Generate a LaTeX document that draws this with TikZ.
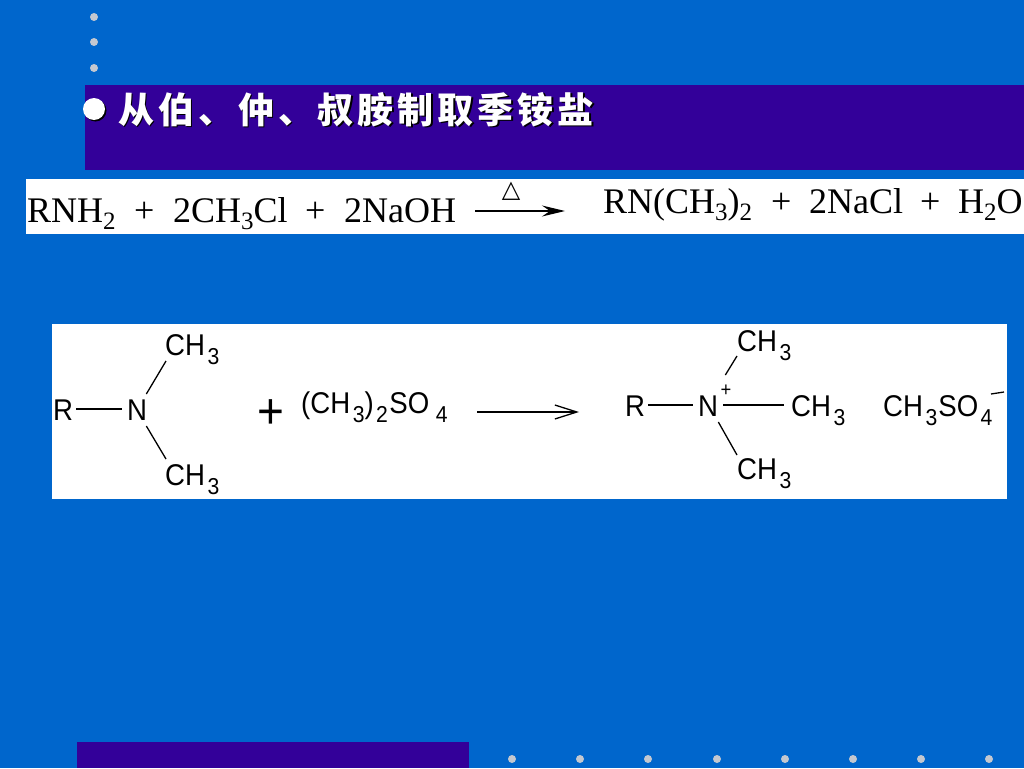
\documentclass[tikz,border=0pt]{standalone}
\usepackage{fontspec}
\setmainfont{Liberation Serif}
\newfontfamily\atomfont[FakeStretch=0.92]{Liberation Sans}
\newfontfamily\cjk[LetterSpace=11]{Noto Sans CJK SC}
\newfontfamily\symfont{DejaVu Sans}
\usetikzlibrary{arrows.meta}
\definecolor{slideblue}{HTML}{0066CC}
\definecolor{bandpurple}{HTML}{330099}
\definecolor{dotgrey}{HTML}{C4C8D0}
% subscripts of the two formula fonts
\newcommand{\serifidx}[1]{\raisebox{-7pt}{\fontsize{25}{25}\selectfont #1}}
\newcommand{\sansidx}[1]{\kern2.5pt\raisebox{-9pt}{\fontsize{23}{23}\selectfont #1}}
\tikzset{
  eqn/.style={anchor=base west,inner sep=0pt,font=\fontsize{36}{36}\selectfont},
  atom/.style={anchor=base west,inner sep=0pt,font=\atomfont\fontsize{30}{30}\selectfont},
  bond/.style={line width=1.3pt},
  dot/.style={circle,fill=dotgrey,inner sep=0pt,minimum width=8pt}
}
\begin{document}
\begin{tikzpicture}[x=1pt,y=-1pt]
      \useasboundingbox (0,0) rectangle (1024,768);
      \fill[slideblue] (0,0) rectangle (1024,768);
      \fill[bandpurple] (85,85) rectangle (1024,170);
      \fill[bandpurple] (77,742) rectangle (469,768);
      \fill[white] (26,179) rectangle (1024,234);
      \fill[white] (52,324) rectangle (1007,499);
      \foreach \y in {17,42,68}
        \node[dot] (left\y) at (94,\y) {};
      \foreach \x in {512,580,648,717,785,853,921,989}
        \node[dot] (foot\x) at (\x,759) {};
      % title
      \node[circle,fill=black,inner sep=0pt,minimum width=22pt] (ballshade) at (95.5,110.5) {};
      \node[circle,fill=white,inner sep=0pt,minimum width=22pt] (ball) at (94,109) {};
      \node[anchor=base west,inner sep=0pt,text=black,font=\cjk\bfseries\fontsize{36}{36}\selectfont] (titleshade) at (119.5,124.5) {从伯、仲、叔胺制取季铵盐};
      \node[anchor=base west,inner sep=0pt,text=white,font=\cjk\bfseries\fontsize{36}{36}\selectfont] (title) at (118,123) {从伯、仲、叔胺制取季铵盐};
      % first reaction
      \node[eqn] (rnh) at (27,222) {RNH\serifidx{2}};
      \node[eqn] (plusa) at (134,222) {+};
      \node[eqn] (chcl) at (173,222) {2CH\serifidx{3}Cl};
      \node[eqn] (plusb) at (305,222) {+};
      \node[eqn] (naoh) at (344,222) {2NaOH};
      \node[anchor=center,inner sep=0pt,font=\symfont\fontsize{24}{24}\selectfont] (heat) at (511,191) {△};
      \node[eqn] (amine) at (603,213) {RN(CH\serifidx{3})\serifidx{2}};
      \node[eqn] (plusc) at (771,213) {+};
      \node[eqn] (nacl) at (809,213) {2NaCl};
      \node[eqn] (plusd) at (920,213) {+};
      \node[eqn] (water) at (958,213) {H\serifidx{2}O};
      \coordinate (heatfrom) at (475,211);
      \coordinate (heatto) at (565,211);
      \draw[line width=1.2pt,-{Stealth[length=23pt,width=11pt,inset=8pt]}] (heatfrom) to (heatto);
      % second reaction
      \node[atom] (ra) at (53,420) {R};
      \node[atom] (na) at (127,420) {N};
      \node[atom] (mea) at (165,355) {CH\sansidx{3}};
      \node[atom] (meb) at (165,485) {CH\sansidx{3}};
      \node[anchor=center,inner sep=0pt,font=\atomfont\fontsize{50}{50}\selectfont] (plus) at (271,414) {+};
      \node[atom] (sulfate) at (301,413) {(CH\sansidx{3})\sansidx{2}\kern1.5pt SO\kern4pt\sansidx{4}};
      \coordinate (arrowfrom) at (477,412);
      \coordinate (arrowto) at (579,412);
      \draw[line width=1.3pt,-{Straight Barb[length=22pt,width=14pt,line width=1.3pt]}] (arrowfrom) to (arrowto);
      \node[atom] (rb) at (625,416) {R};
      \node[atom] (nb) at (698,416) {N};
      \node[anchor=center,inner sep=0pt,font=\atomfont\fontsize{20}{20}\selectfont] (charge) at (726,391) {+};
      \node[atom] (mec) at (737,351) {CH\sansidx{3}};
      \node[atom] (med) at (791,416) {CH\sansidx{3}};
      \node[atom] (mee) at (737,479) {CH\sansidx{3}};
      \node[atom] (anion) at (883,416) {CH\sansidx{3}\kern1pt SO\sansidx{4}};
      \coordinate (minusa) at (991,394);
      \coordinate (minusb) at (1004,392);
      \begin{scope}[bond]
        \draw ([shift={(3,-11)}]ra.base east) to ([shift={(-5,-11)}]na.base west);
        \draw ([shift={(-1,-26)}]na.base east) to ([shift={(1,6)}]mea.base west);
        \draw ([shift={(-1,6)}]na.base east) to ([shift={(1,-26)}]meb.base west);
        \draw ([shift={(3,-11)}]rb.base east) to ([shift={(-5,-11)}]nb.base west);
        \draw ([shift={(5,-11)}]nb.base east) to ([shift={(-7,-11)}]med.base west);
        \draw ([shift={(7,-41)}]nb.base east) to ([shift={(0,5)}]mec.base west);
        \draw ([shift={(0,6)}]nb.base east) to ([shift={(0,-24)}]mee.base west);
        \draw (minusa) to (minusb);
      \end{scope}
    \end{tikzpicture}
\end{document}
